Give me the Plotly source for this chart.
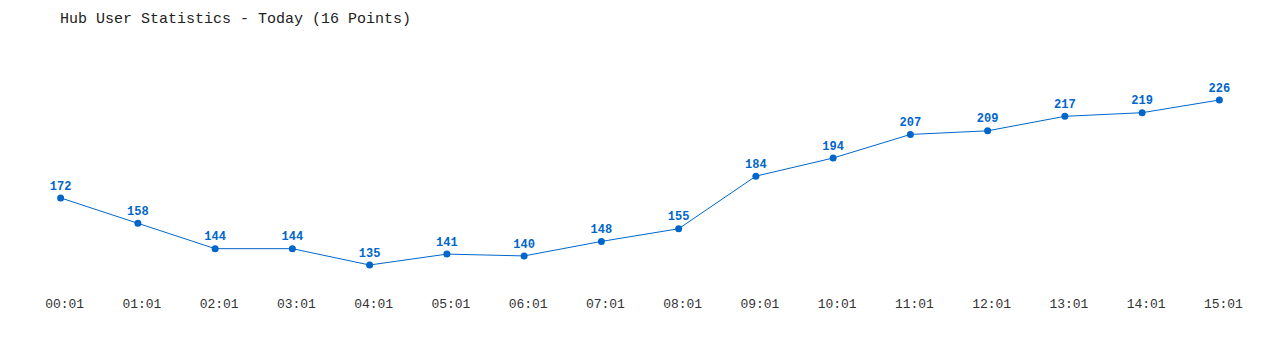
import plotly.graph_objects as go

times = ["00:01", "01:01", "02:01", "03:01", "04:01", "05:01", "06:01", "07:01",
         "08:01", "09:01", "10:01", "11:01", "12:01", "13:01", "14:01", "15:01"]
users = [172, 158, 144, 144, 135, 141, 140, 148, 155, 184, 194, 207, 209, 217, 219, 226]

idx = list(range(len(times)))
blue = "#0066cc"
font = "Liberation Mono"

fig = go.Figure()
fig.add_trace(go.Scatter(
    x=idx, y=users,
    mode="lines+markers+text",
    line=dict(color=blue, width=1),
    marker=dict(color=blue, size=7),
    text=[f"<b>{v}</b>" for v in users],
    textposition="top center",
    textfont=dict(family=font, size=12, color=blue),
    hoverinfo="skip",
))

fig.update_layout(
    width=1280, height=350,
    margin=dict(l=22, r=22, t=60, b=65),
    paper_bgcolor="white", plot_bgcolor="white",
    showlegend=False,
    title=dict(
        text="Hub User Statistics - Today (16 Points)",
        x=60 / 1280, xref="container", xanchor="left",
        y=1 - 18 / 350, yref="container", yanchor="middle",
        font=dict(family=font, size=15, color="#222222"),
    ),
    xaxis=dict(
        range=[-0.5, len(times) - 0.5],
        tickmode="array", tickvals=idx, ticktext=times,
        showgrid=False, zeroline=False, showline=False,
        ticks="outside", ticklen=6, tickcolor="white",
        ticklabelshift=4,
        tickfont=dict(family=font, size=13, color="#333333"),
    ),
    yaxis=dict(
        range=[123.97, 248.06],
        showgrid=False, zeroline=False, showline=False,
        showticklabels=False,
    ),
)

fig.write_html("out.html")
